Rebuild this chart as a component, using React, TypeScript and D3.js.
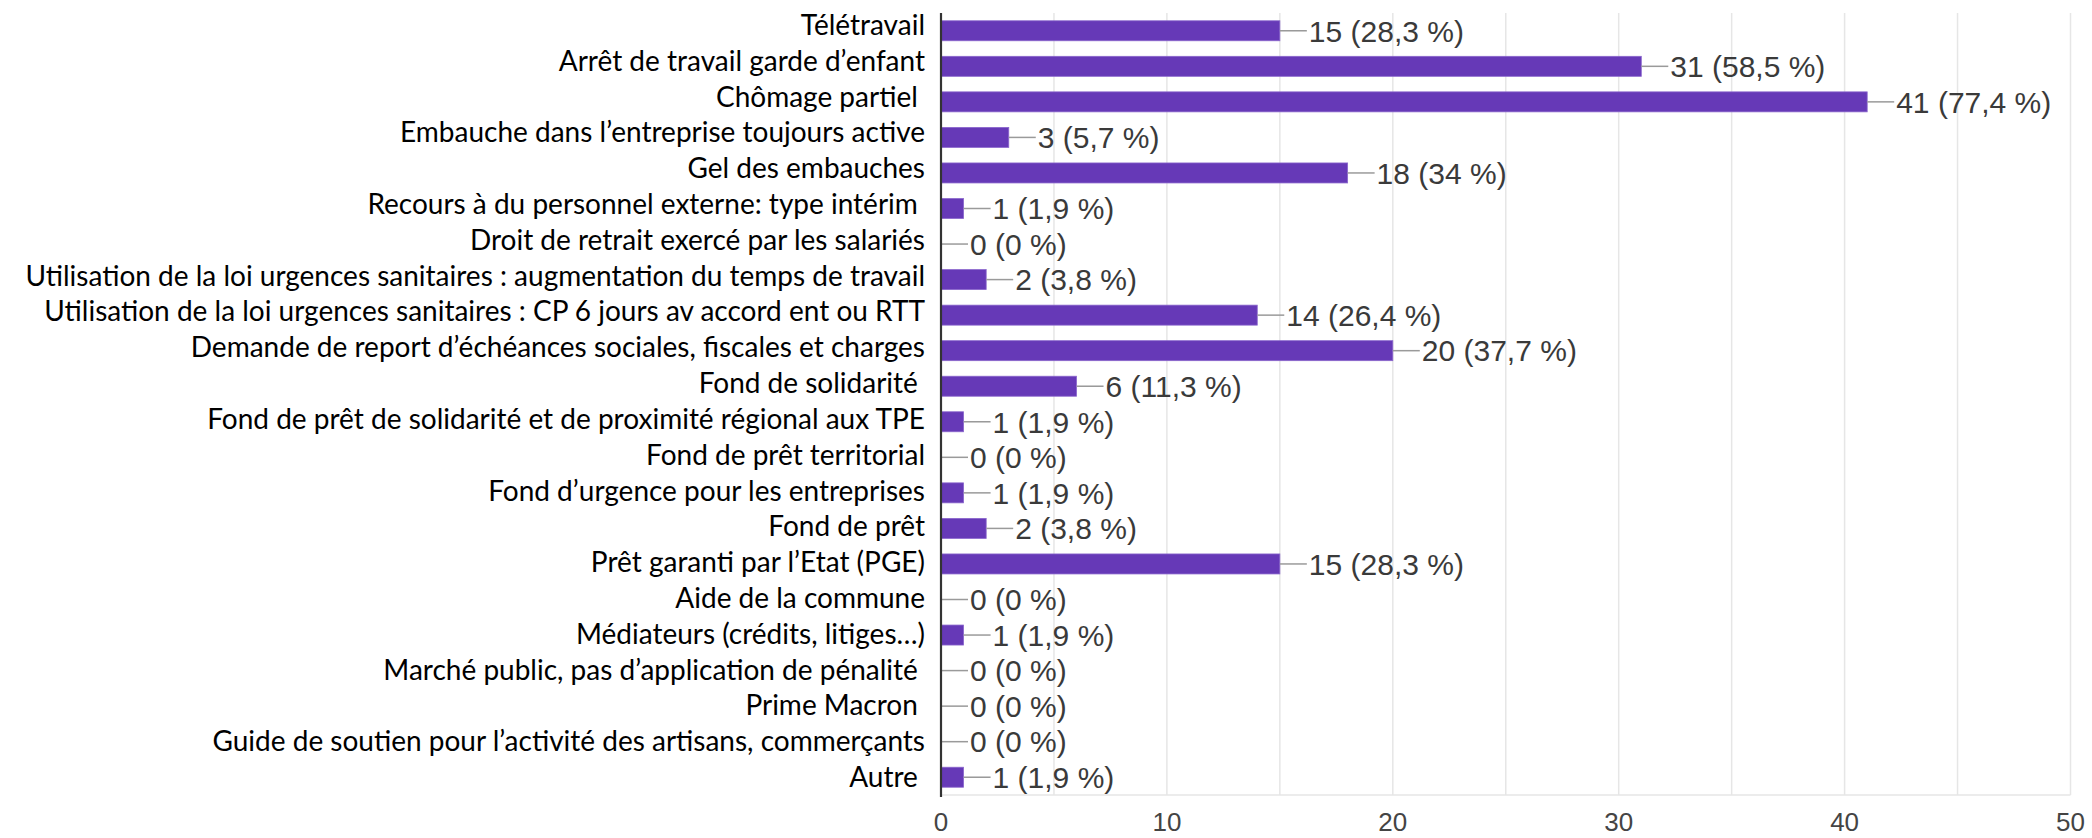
import React from "react";
import * as d3 from "d3";

const categories: string[] = [
  "Télétravail",
  "Arrêt de travail garde d’enfant",
  "Chômage partiel ",
  "Embauche dans l’entreprise toujours active",
  "Gel des embauches",
  "Recours à du personnel externe: type intérim ",
  "Droit de retrait exercé par les salariés",
  "Utilisation de la loi urgences sanitaires : augmentation du temps de travail",
  "Utilisation de la loi urgences sanitaires : CP 6 jours av accord ent ou RTT",
  "Demande de report d’échéances sociales, fiscales et charges",
  "Fond de solidarité ",
  "Fond de prêt de solidarité et de proximité régional aux TPE",
  "Fond de prêt territorial",
  "Fond d’urgence pour les entreprises",
  "Fond de prêt",
  "Prêt garanti par l’Etat (PGE)",
  "Aide de la commune",
  "Médiateurs (crédits, litiges…)",
  "Marché public, pas d’application de pénalité ",
  "Prime Macron ",
  "Guide de soutien pour l’activité des artisans, commerçants",
  "Autre ",
];

const values: number[] = [15, 31, 41, 3, 18, 1, 0, 2, 14, 20, 6, 1, 0, 1, 2, 15, 0, 1, 0, 0, 0, 1];

const percents: string[] = [
  "28,3", "58,5", "77,4", "5,7", "34", "1,9", "0", "3,8", "26,4", "37,7", "11,3",
  "1,9", "0", "1,9", "3,8", "28,3", "0", "1,9", "0", "0", "0", "1,9",
];

const tickValues: number[] = [0, 10, 20, 30, 40, 50];
const gridValues: number[] = [5, 10, 15, 20, 25, 30, 35, 40, 45, 50];

const W = 2092;
const H = 838;

export default function App() {
  const x = d3.scaleLinear().domain([0, 50]).range([941, 2070.5]);
  const y = d3
    .scaleBand<string>()
    .domain(categories)
    .range([13, 795])
    .paddingInner(0.4375)
    .paddingOuter(0.21875);
  const yLabel = d3.scalePoint<string>().domain(categories).range([35, 787]);
  const bw = y.bandwidth();
  const [top, bottom] = y.range();

  return (
    <svg
      width={W}
      height={H}
      style={{ position: "absolute", left: 0, top: 0, background: "#fff" }}
    >
      <rect x={0} y={0} width={W} height={H} fill="#fff" />
      {/* grid */}
      {gridValues.map((g) => (
        <line
          key={"g" + g}
          x1={x(g)}
          x2={x(g)}
          y1={top}
          y2={bottom}
          stroke="#e6e6e6"
          strokeWidth={1.5}
        />
      ))}
      <line x1={x(0)} x2={x(50)} y1={bottom} y2={bottom} stroke="#e6e6e6" strokeWidth={1.5} />
      {/* bars */}
      {categories.map((c, i) => {
        const yc = (y(c) as number) + bw / 2;
        const x0 = x(0);
        const x1 = x(values[i]);
        return (
          <g key={"b" + i}>
            {values[i] > 0 && (
              <rect x={x0} y={y(c) as number} width={x1 - x0} height={bw} fill="#6639b7" stroke="#8a66cc" strokeWidth={0.8} />
            )}
            <line x1={x1} x2={x1 + 27} y1={yc} y2={yc} stroke="#9a9a9a" strokeWidth={1.5} />
            <text
              x={x1 + 29}
              y={yc}
              dy="0.36em"
              fontFamily="'Liberation Sans', Arial, sans-serif"
              fontSize={30}
              fill="#3a3a3a"
            >
              {values[i] + " (" + percents[i] + " %)"}
            </text>
          </g>
        );
      })}
      {/* axis line */}
      <line x1={x(0)} x2={x(0)} y1={top} y2={bottom + 2} stroke="#333" strokeWidth={2.2} />
      {/* category labels */}
      {categories.map((c, i) => (
        <text
          key={"l" + i}
          x={925}
          y={yLabel(c) as number}
          textAnchor="end"
          fontFamily="Lato, 'Noto Sans', sans-serif"
          fontSize={28}
          fill="#000"
          style={{ whiteSpace: "pre" }}
        >
          {c}
        </text>
      ))}
      {/* tick labels */}
      {tickValues.map((t) => (
        <text
          key={"t" + t}
          x={x(t)}
          y={831}
          textAnchor="middle"
          fontFamily="'Liberation Sans', Arial, sans-serif"
          fontSize={26}
          fill="#444"
        >
          {t}
        </text>
      ))}
    </svg>
  );
}
